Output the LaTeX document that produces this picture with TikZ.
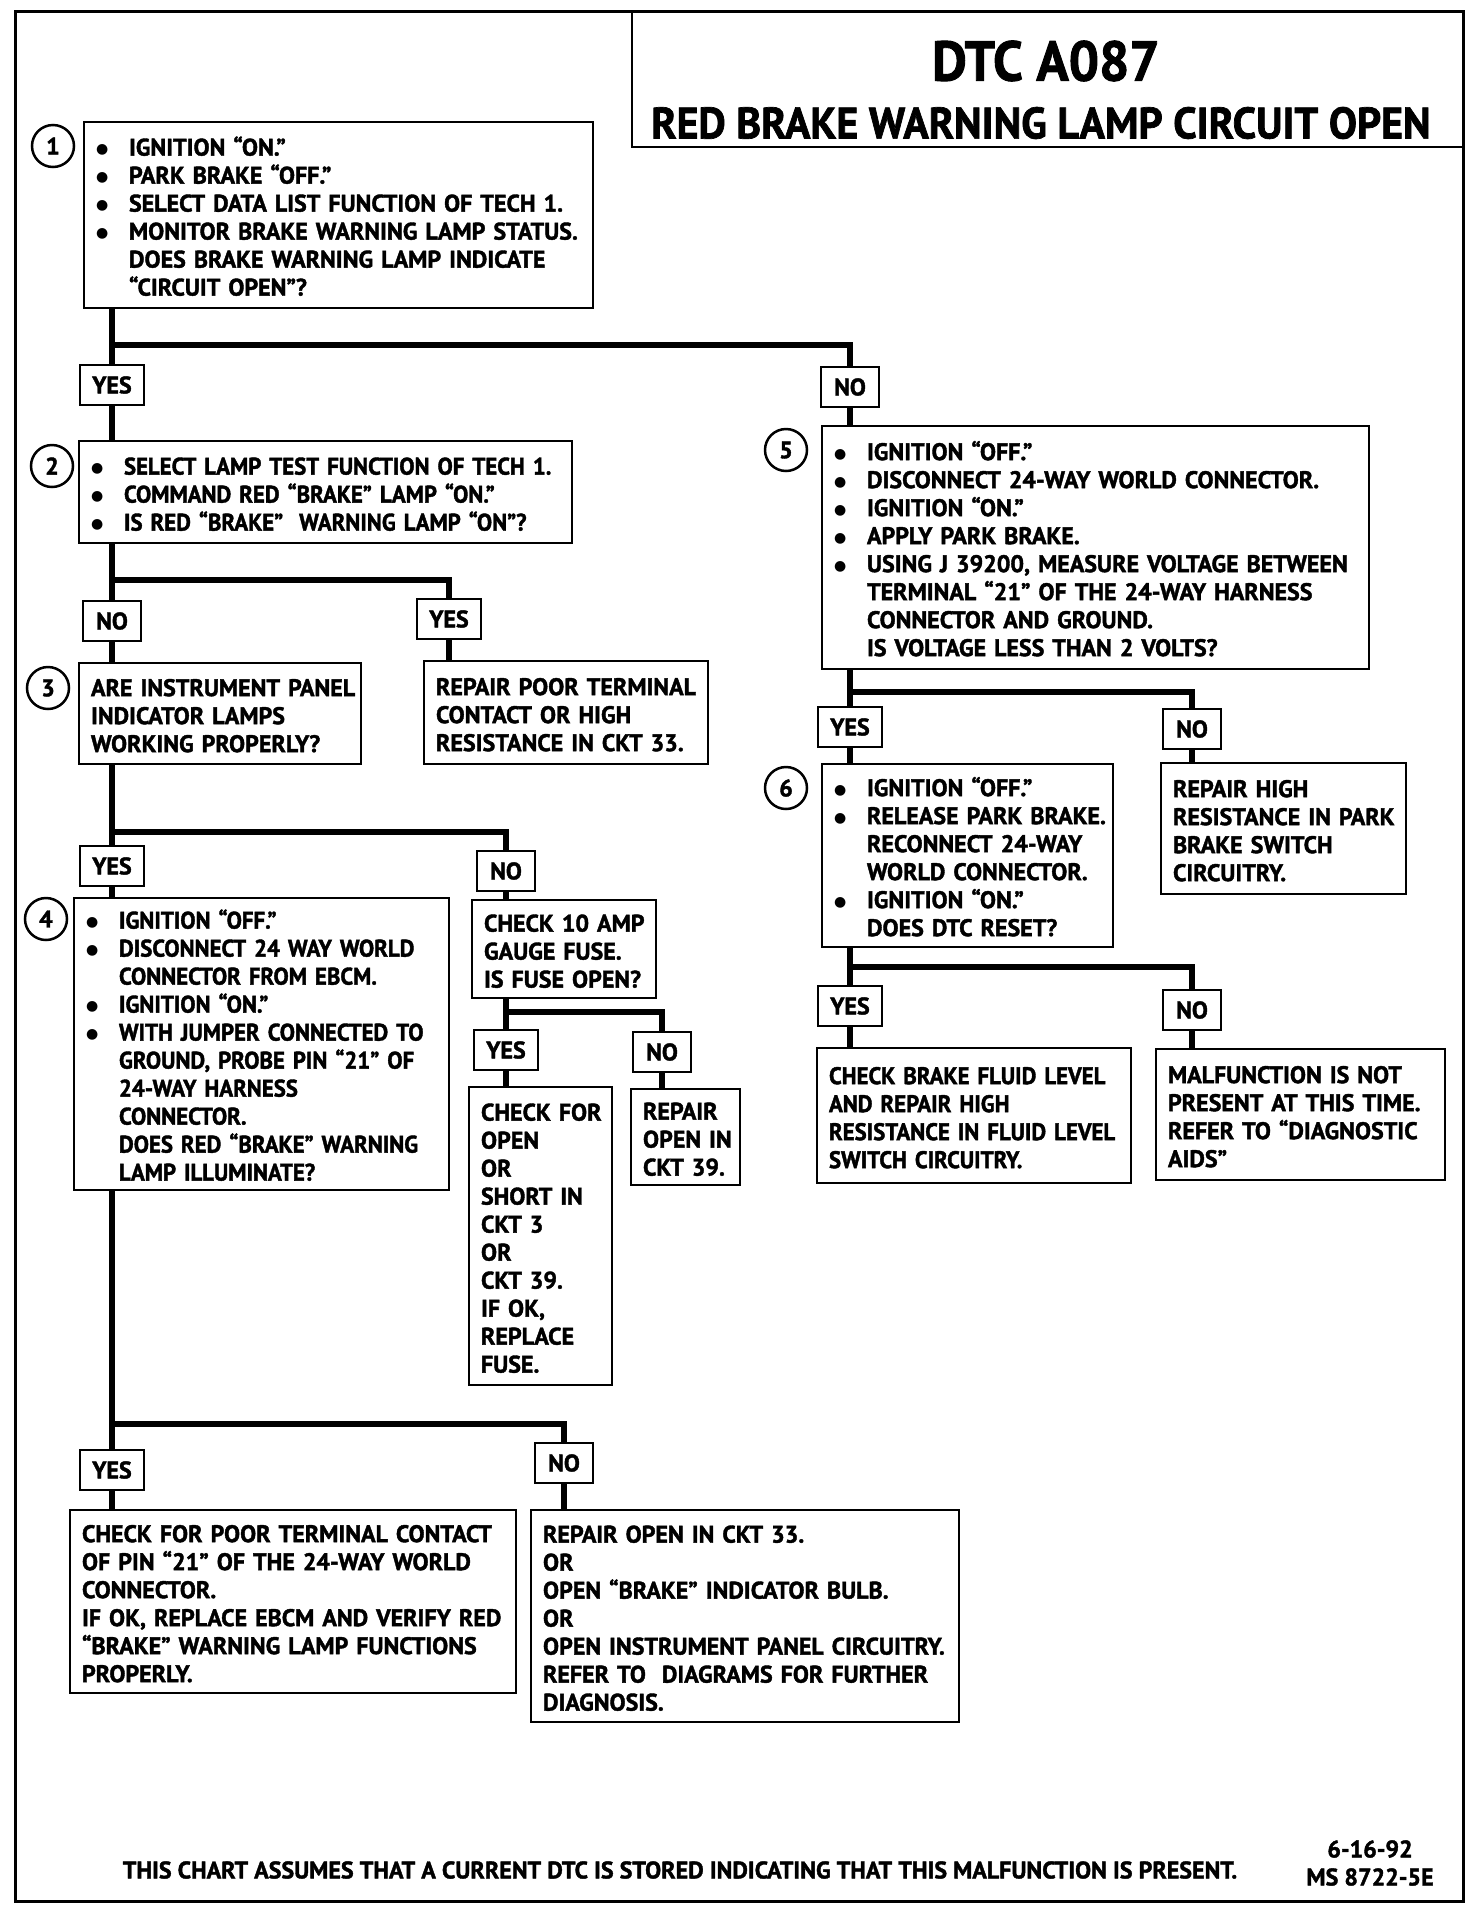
\documentclass[tikz,border=0pt]{standalone}
\usepackage{fontspec}
\setmainfont{PT Sans}[BoldFeatures={FakeBold=1.6}]
\newfontfamily\bodyc{PT Sans}[FakeStretch=0.95, BoldFeatures={FakeBold=1.6}]
\newfontfamily\tfont{PT Sans}[FakeStretch=0.955, BoldFeatures={FakeBold=1.6}]
\newfontfamily\dv{DejaVu Sans}
\newcommand\body{\bfseries\fontsize{24}{28}\selectfont}
\newcommand\bodyn{\bodyc\bfseries\fontsize{24}{28}\selectfont}
\newcommand\bul{\makebox[33pt][l]{\raisebox{2pt}{\dv\fontsize{14}{28}\selectfont ●}}}
\newcommand\ind{\hspace*{33pt}}
\newcommand\tb[1]{\raisebox{-5pt}[\height][\depth]{\begin{tabular}{@{}l@{}}#1\end{tabular}}}
\tikzset{
  bx/.style 2 args={draw, line width=2pt, anchor=north west, inner xsep=12pt, inner ysep=0pt,
    text width=#1, minimum height=#2, align=left, font=\body},
  lab/.style={draw, line width=2pt, minimum height=40pt, minimum width=#1, inner sep=0pt, fill=white, font=\body},
  conn/.style={line width=6pt},
  num/.style={circle, draw, line width=2.5pt, minimum size=42pt, inner sep=0pt, font=\body},
}
\begin{document}
\begin{tikzpicture}[x=1pt,y=-1pt]
\useasboundingbox (0,0) rectangle (1472,1912);
\fill[white] (0,0) rectangle (1472,1912);
\draw[line width=3pt] (15,11) rectangle (1463,1901);

% title
\node[draw, line width=2pt, anchor=north west, minimum width=832pt, minimum height=135pt, inner sep=0pt] (tbox) at (631,11) {};
\node[font=\tfont\bfseries\fontsize{56}{60}\selectfont] (t1) at (1046,61) {DTC A087};
\node[font=\tfont\bfseries\fontsize{44}{48}\selectfont] (t2) at (1041,123) {RED BRAKE WARNING LAMP CIRCUIT OPEN};

% boxes
\node[bx={485pt}{186pt}] (b1) at (83,121) {\tb{\bul IGNITION “ON.”\\
\bul PARK BRAKE “OFF.”\\
\bul SELECT DATA LIST FUNCTION OF TECH 1.\\
\bul MONITOR BRAKE WARNING LAMP STATUS.\\
\ind DOES BRAKE WARNING LAMP INDICATE\\
\ind “CIRCUIT OPEN”?}};
\node[num] (c1) at (53,146) {1};

\node[bx={469pt}{102pt}, font=\bodyn] (b2) at (78,440) {\tb{\bul SELECT LAMP TEST FUNCTION OF TECH 1.\\
\bul COMMAND RED “BRAKE” LAMP “ON.”\\
\bul IS RED “BRAKE” \ WARNING LAMP “ON”?}};
\node[num] (c2) at (52,466) {2};

\node[bx={258pt}{101pt}] (b3) at (78,662) {\tb{ARE INSTRUMENT PANEL\\INDICATOR LAMPS\\WORKING PROPERLY?}};
\node[num] (c3) at (48,688) {3};

\node[bx={260pt}{103pt}] (rp) at (423,660) {\tb{REPAIR POOR TERMINAL\\CONTACT OR HIGH\\RESISTANCE IN CKT 33.}};

\node[bx={351pt}{292pt}, font=\bodyn] (b4) at (73,897) {\tb{\bul IGNITION “OFF.”\\
\bul DISCONNECT 24 WAY WORLD\\
\ind CONNECTOR FROM EBCM.\\
\bul IGNITION “ON.”\\
\bul WITH JUMPER CONNECTED TO\\
\ind GROUND, PROBE PIN “21” OF\\
\ind 24-WAY HARNESS\\
\ind CONNECTOR.\\
\ind DOES RED “BRAKE” WARNING\\
\ind LAMP ILLUMINATE?}};
\node[num] (c4) at (46,919) {4};

\node[bx={160pt}{98pt}] (ck) at (471,899) {\tb{CHECK 10 AMP\\GAUGE FUSE.\\IS FUSE OPEN?}};
\node[bx={119pt}{298pt}] (co) at (468,1086) {\tb{CHECK FOR\\OPEN\\OR\\SHORT IN\\CKT 3\\OR\\CKT 39.\\IF OK,\\REPLACE\\FUSE.}};
\node[bx={85pt}{96pt}] (ro) at (630,1088) {\tb{REPAIR\\OPEN IN\\CKT 39.}};

\node[bx={422pt}{183pt}] (ry) at (69,1509) {\tb{CHECK FOR POOR TERMINAL CONTACT\\
OF PIN “21” OF THE 24-WAY WORLD\\
CONNECTOR.\\
IF OK, REPLACE EBCM AND VERIFY RED\\
“BRAKE” WARNING LAMP FUNCTIONS\\
PROPERLY.}};
\node[bx={404pt}{212pt}] (rn) at (530,1509) {\tb{REPAIR OPEN IN CKT 33.\\
OR\\
OPEN “BRAKE” INDICATOR BULB.\\
OR\\
OPEN INSTRUMENT PANEL CIRCUITRY.\\
REFER TO \ DIAGRAMS FOR FURTHER\\
DIAGNOSIS.}};

\node[bx={523pt}{243pt}] (b5) at (821,425) {\tb{\bul IGNITION “OFF.”\\
\bul DISCONNECT 24-WAY WORLD CONNECTOR.\\
\bul IGNITION “ON.”\\
\bul APPLY PARK BRAKE.\\
\bul USING J 39200, MEASURE VOLTAGE BETWEEN\\
\ind TERMINAL “21” OF THE 24-WAY HARNESS\\
\ind CONNECTOR AND GROUND.\\
\ind IS VOLTAGE LESS THAN 2 VOLTS?}};
\node[num] (c5) at (786,450) {5};

\node[bx={221pt}{131pt}] (rh) at (1160,762) {\tb{REPAIR HIGH\\RESISTANCE IN PARK\\BRAKE SWITCH\\CIRCUITRY.}};

\node[bx={267pt}{183pt}] (b6) at (821,763) {\tb{\bul IGNITION “OFF.”\\
\bul RELEASE PARK BRAKE.\\
\ind RECONNECT 24-WAY\\
\ind WORLD CONNECTOR.\\
\bul IGNITION “ON.”\\
\ind DOES DTC RESET?}};
\node[num] (c6) at (786,788) {6};

\node[bx={290pt}{135pt}, font=\bodyn] (bf) at (816,1047) {\tb{CHECK BRAKE FLUID LEVEL\\AND REPAIR HIGH\\RESISTANCE IN FLUID LEVEL\\SWITCH CIRCUITRY.}};
\node[bx={265pt}{131pt}] (mf) at (1155,1048) {\tb{MALFUNCTION IS NOT\\PRESENT AT THIS TIME.\\REFER TO “DIAGNOSTIC\\AIDS”}};

% labels
\node[lab=64pt] (y1) at (112,385) {YES};
\node[lab=58pt] (n1) at (850,387) {NO};
\node[lab=58pt] (n2) at (112,621) {NO};
\node[lab=64pt] (y2) at (449,619) {YES};
\node[lab=64pt] (y3) at (112,866) {YES};
\node[lab=58pt] (n3) at (506,871) {NO};
\node[lab=64pt] (y4) at (506,1050) {YES};
\node[lab=58pt] (n4) at (662,1052) {NO};
\node[lab=64pt] (y5) at (112,1470) {YES};
\node[lab=58pt] (n5) at (564,1463) {NO};
\node[lab=64pt] (y6) at (850,727) {YES};
\node[lab=58pt] (n6) at (1192,729) {NO};
\node[lab=64pt] (y7) at (850,1006) {YES};
\node[lab=58pt] (n7) at (1192,1010) {NO};

% junctions
\coordinate (j1) at (112,345);
\coordinate (j2) at (112,580);
\coordinate (j3) at (112,832);
\coordinate (j4) at (506,1012);
\coordinate (j5) at (112,1424);
\coordinate (j6) at (850,692);
\coordinate (j7) at (850,967);

% connectors
\draw[conn] (b1.south -| y1) -- (y1.north);
\draw[conn] (j1) -| (n1.north);
\draw[conn] (y1.south) -- (y1.south |- b2.north);
\draw[conn] (n1.south) -- (n1.south |- b5.north);

\draw[conn] (b2.south -| n2) -- (n2.north);
\draw[conn] (j2) -| (y2.north);
\draw[conn] (n2.south) -- (n2.south |- b3.north);
\draw[conn] (y2.south) -- (y2.south |- rp.north);

\draw[conn] (b3.south -| y3) -- (y3.north);
\draw[conn] (j3) -| (n3.north);
\draw[conn] (y3.south) -- (y3.south |- b4.north);
\draw[conn] (n3.south) -- (n3.south |- ck.north);

\draw[conn] (ck.south -| y4) -- (y4.north);
\draw[conn] (j4) -| (n4.north);
\draw[conn] (y4.south) -- (y4.south |- co.north);
\draw[conn] (n4.south) -- (n4.south |- ro.north);

\draw[conn] (b4.south -| y5) -- (y5.north);
\draw[conn] (j5) -| (n5.north);
\draw[conn] (y5.south) -- (y5.south |- ry.north);
\draw[conn] (n5.south) -- (n5.south |- rn.north);

\draw[conn] (b5.south -| y6) -- (y6.north);
\draw[conn] (j6) -| (n6.north);
\draw[conn] (y6.south) -- (y6.south |- b6.north);
\draw[conn] (n6.south) -- (n6.south |- rh.north);

\draw[conn] (b6.south -| y7) -- (y7.north);
\draw[conn] (j7) -| (n7.north);
\draw[conn] (y7.south) -- (y7.south |- bf.north);
\draw[conn] (n7.south) -- (n7.south |- mf.north);

% footer
\node[font=\body] (foot) at (680,1870) {THIS CHART ASSUMES THAT A CURRENT DTC IS STORED INDICATING THAT THIS MALFUNCTION IS PRESENT.};
\node[font=\body, align=center] (date) at (1370,1863) {6-16-92\\MS 8722-5E};
\end{tikzpicture}
\end{document}
